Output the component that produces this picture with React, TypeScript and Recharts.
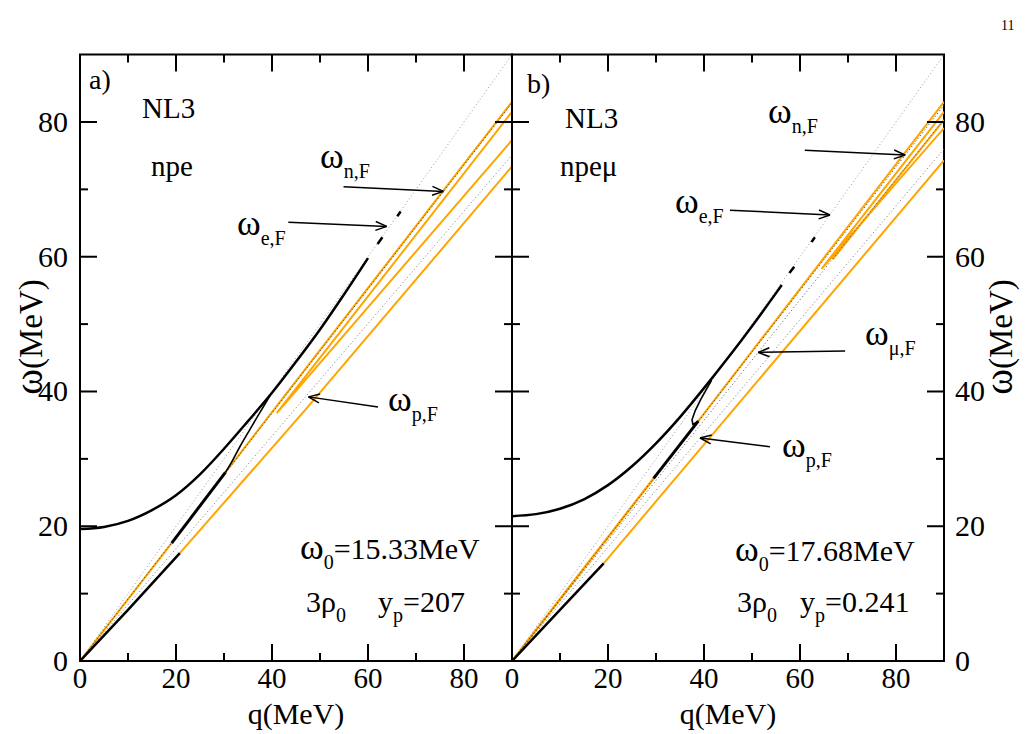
import { LineChart, Line, XAxis, YAxis, ReferenceLine, ReferenceArea } from "recharts";

// page and plot frame (px)
const W = 1026;
const H = 734;
const TOP = 54.6;
const BOTTOM = 661;
const A_LEFT = 80;
const A_RIGHT = 512;
const B_LEFT = 512;
const B_RIGHT = 944;
const Q_MAX = 90;
const W_MAX = 90;
const KX = (A_RIGHT - A_LEFT) / Q_MAX;
const KY = (BOTTOM - TOP) / W_MAX;
const X_AXIS_H = 40;
const Y_AXIS_W = 60;

const FONT = "'Liberation Serif', 'DejaVu Serif', serif";
const ORANGE = "#ffa500";

const qTicks = [0, 10, 20, 30, 40, 50, 60, 70, 80];
const wTicks = [0, 10, 20, 30, 40, 50, 60, 70, 80];

type Pt = [number, number | null];

// ---- a) NL3, npe : branches of ω(q) in MeV ----
const npeUpper: Pt[] = [[0, 19.6], [5, 19.9], [10, 20.8], [15, 22.4], [20, 24.6], [25, 27.7], [30, 31.5], [35, 35.6], [40, 39.8], [45, 44.4], [50, 49.2], [55, 54.4], [60, 59.8]];
const npeUpperTail: Pt[] = [[62.0, 61.9], [63.0, 62.9], [64.5, null], [66.1, 66.0], [66.8, 66.7]];
const npeCusp: Pt[] = [[30.3, 28.0], [31.5, 29.4], [33.3, 31.8], [35.5, 34.5], [37.5, 36.9], [39.6, 39.4]];
const npeMidOrangeLow: Pt[] = [[0, 0], [19.1, 17.5]];
const npeMidBlack: Pt[] = [[19.1, 17.5], [30.3, 28.0]];
const npeMidOrangeHigh: Pt[] = [[30.3, 28.0], [90, 83.0]];
const npeV: Pt[] = [[90, 81.5], [41, 36.8], [90, 77.3]];
const npeLowBlack: Pt[] = [[0, 0], [10, 7.6], [20.8, 16.0]];
const npeLowOrange: Pt[] = [[20.8, 16.0], [47.2, 37.5], [90, 73.4]];
const npeVe: Pt[] = [[0, 0], [90, 90]];
const npeVn: Pt[] = [[0, 0], [90, 82.8]];
const npeVp: Pt[] = [[0, 0], [90, 75.1]];

// ---- b) NL3, npeμ ----
const npemUpper: Pt[] = [[0, 21.5], [5, 21.8], [10, 22.6], [15, 24.0], [20, 26.1], [25, 28.9], [30, 32.3], [35, 36.2], [40, 40.5], [45, 45.0], [50, 49.7], [55, 54.6], [56.2, 55.8]];
const npemUpperTail: Pt[] = [[57.8, 57.6], [58.8, 58.5], [60.5, null], [62.4, 62.2], [63.1, 62.9]];
const npemCusp: Pt[] = [[38.8, 35.6], [37.7, 35.1], [37.5, 35.8], [38.2, 37.2], [39.3, 38.8], [40.5, 40.3], [41.6, 41.7]];
const npemMidOrangeLow: Pt[] = [[0, 0], [29.5, 27.1]];
const npemMidBlack: Pt[] = [[29.5, 27.1], [38.8, 35.6]];
const npemMidOrangeHigh: Pt[] = [[38.8, 35.6], [90, 83.0]];
const npemV1: Pt[] = [[90, 81.5], [64.5, 58.2], [90, 79.1]];
const npemV2: Pt[] = [[71, 64.1], [66.8, 59.6], [90, 80.3]];
const npemLowBlack: Pt[] = [[0, 0], [10, 7.6], [19.1, 14.5]];
const npemLowOrange: Pt[] = [[19.1, 14.5], [90, 74.3]];
const npemVe: Pt[] = [[0, 0], [90, 90]];
const npemVn: Pt[] = [[0, 0], [90, 82.5]];
const npemVmu: Pt[] = [[0, 0], [90, 80.4]];
const npemVp: Pt[] = [[0, 0], [90, 76.0]];

// arrows pointing at the Fermi lines: [tail, tip] in (q, ω)
const npeArrows = [
  [[54.9, 70.4], [75.7, 69.7]],
  [[43.4, 65.1], [63.9, 64.5]],
  [[62.1, 37.7], [47.6, 39.2]],
];
const npemArrows = [
  [[61.0, 75.8], [81.9, 75.1]],
  [[45.4, 66.9], [66.25, 66.2]],
  [[69.4, 46.0], [51.3, 45.8]],
  [[53.75, 31.8], [39.2, 33.1]],
];

const pts = (a: Pt[]) => a.map(([q, w]) => ({ q, w }));

type Series = { d: Pt[]; color: string; width: number; dash?: string; curve?: boolean };

const npeSeries: Series[] = [
  { d: npeMidOrangeLow, color: ORANGE, width: 2 },
  { d: npeMidOrangeHigh, color: ORANGE, width: 2 },
  { d: npeV, color: ORANGE, width: 2 },
  { d: npeLowOrange, color: ORANGE, width: 2 },
  { d: npeVe, color: "#999", width: 1, dash: "1 2.5" },
  { d: npeVn, color: "#333", width: 1, dash: "1 2.5" },
  { d: npeVp, color: "#777", width: 1, dash: "1 2.5" },
  { d: npeUpper, color: "#000", width: 2.5, curve: true },
  { d: npeUpperTail, color: "#000", width: 2.5 },
  { d: npeCusp, color: "#000", width: 1.6, curve: true },
  { d: npeMidBlack, color: "#000", width: 3 },
  { d: npeLowBlack, color: "#000", width: 2.5 },
];

const npemSeries: Series[] = [
  { d: npemMidOrangeLow, color: ORANGE, width: 2.5 },
  { d: npemMidOrangeHigh, color: ORANGE, width: 2 },
  { d: npemV1, color: ORANGE, width: 2 },
  { d: npemV2, color: ORANGE, width: 2 },
  { d: npemLowOrange, color: ORANGE, width: 2 },
  { d: npemVe, color: "#999", width: 1, dash: "1 2.5" },
  { d: npemVn, color: "#333", width: 1, dash: "1 2.5" },
  { d: npemVmu, color: "#555", width: 1, dash: "1 2.5" },
  { d: npemVp, color: "#777", width: 1, dash: "1 2.5" },
  { d: npemUpper, color: "#000", width: 2.5, curve: true },
  { d: npemUpperTail, color: "#000", width: 2.5 },
  { d: npemCusp, color: "#000", width: 1.6 },
  { d: npemMidBlack, color: "#000", width: 3 },
  { d: npemLowBlack, color: "#000", width: 2.5 },
];

// open arrowhead, built in pixel space and mapped back to data units
const arrowHead = (from: number[], to: number[]) => {
  const dx = (to[0] - from[0]) * KX;
  const dy = (to[1] - from[1]) * KY;
  const len = Math.hypot(dx, dy);
  const ux = dx / len;
  const uy = dy / len;
  const L = 12;
  return [-0.38, 0.38].map((t) => {
    const c = Math.cos(t);
    const s = Math.sin(t);
    const rx = ux * c - uy * s;
    const ry = ux * s + uy * c;
    return [to[0] - (L * rx) / KX, to[1] - (L * ry) / KY];
  });
};

const tickLen = (v: number) => (v % 20 === 0 ? 17 : 8);

// inward ticks on both bottom and top edges, label under the bottom one
const XTick = (props: any) => {
  const { x, payload } = props;
  const v = payload.value;
  const len = tickLen(v);
  return (
    <g>
      <line x1={x} x2={x} y1={BOTTOM} y2={BOTTOM - len} stroke="#000" strokeWidth={2} />
      <line x1={x} x2={x} y1={TOP} y2={TOP + len} stroke="#000" strokeWidth={2} />
      {v % 20 === 0 && (
        <text x={x} y={BOTTOM + 27} textAnchor="middle" fontSize={29} fontFamily={FONT} fill="#000">
          {v}
        </text>
      )}
    </g>
  );
};

const makeYTick = (left: number, right: number, labelRight: boolean) => (props: any) => {
  const { y, payload } = props;
  const v = payload.value;
  const len = tickLen(v);
  return (
    <g>
      <line x1={left} x2={left + len} y1={y} y2={y} stroke="#000" strokeWidth={2} />
      <line x1={right} x2={right - len} y1={y} y2={y} stroke="#000" strokeWidth={2} />
      {v % 20 === 0 && (
        <text
          x={labelRight ? right + 11 : left - 12}
          y={y + 10}
          textAnchor={labelRight ? "start" : "end"}
          fontSize={30}
          fontFamily={FONT}
          fill="#000"
        >
          {v}
        </text>
      )}
    </g>
  );
};

const Panel = ({ left, right, series, arrows, labelRight }: { left: number; right: number; series: Series[]; arrows: number[][][]; labelRight: boolean }) => (
  <div style={{ position: "absolute", left: 0, top: 0, width: W, height: H }}>
    <LineChart
      width={W}
      height={H}
      margin={{
        top: TOP,
        bottom: H - BOTTOM - X_AXIS_H,
        left: labelRight ? left : left - Y_AXIS_W,
        right: labelRight ? W - right - Y_AXIS_W : W - right,
      }}
    >
      <XAxis
        type="number"
        dataKey="q"
        domain={[0, Q_MAX]}
        ticks={qTicks}
        interval={0}
        height={X_AXIS_H}
        axisLine={false}
        tickLine={false}
        tick={<XTick />}
        allowDataOverflow
      />
      <YAxis
        type="number"
        dataKey="w"
        domain={[0, W_MAX]}
        ticks={wTicks}
        interval={0}
        width={Y_AXIS_W}
        orientation={labelRight ? "right" : "left"}
        axisLine={false}
        tickLine={false}
        tick={makeYTick(left, right, labelRight)}
        allowDataOverflow
      />
      {series.map((s, i) => (
        <Line
          key={i}
          data={pts(s.d)}
          dataKey="w"
          type={s.curve ? "monotone" : "linear"}
          stroke={s.color}
          strokeWidth={s.width}
          strokeDasharray={s.dash}
          dot={false}
          activeDot={false}
          isAnimationActive={false}
        />
      ))}
      {arrows.map(([from, to], i) => (
        <ReferenceLine
          key={"s" + i}
          segment={[{ x: from[0], y: from[1] }, { x: to[0], y: to[1] }]}
          stroke="#000"
          strokeWidth={1.5}
          ifOverflow="visible"
        />
      ))}
      {arrows.flatMap(([from, to], i) =>
        arrowHead(from, to).map((h, j) => (
          <ReferenceLine
            key={"h" + i + "-" + j}
            segment={[{ x: h[0], y: h[1] }, { x: to[0], y: to[1] }]}
            stroke="#000"
            strokeWidth={1.5}
            ifOverflow="visible"
          />
        ))
      )}
      <ReferenceArea x1={0} x2={Q_MAX} y1={0} y2={W_MAX} fill="none" fillOpacity={0} stroke="#000" strokeWidth={2} ifOverflow="visible" />
    </LineChart>
  </div>
);

// ω with a lowered subscript
const Omega = ({ x, y, sub }: { x: number; y: number; sub: string }) => (
  <text x={x} y={y} fontSize={30}>
    <tspan fontSize={36}>ω</tspan>
    <tspan dy={10} fontSize={20}>{sub}</tspan>
  </text>
);

const Labels = () => (
  <svg width={W} height={H} style={{ position: "absolute", left: 0, top: 0, pointerEvents: "none" }} fontFamily={FONT} fill="#000">
    <text x={1001} y={30} fontSize={14}>11</text>

    {/* panel a */}
    <text x={89} y={89} fontSize={28}>a)</text>
    <text x={142} y={118} fontSize={29}>NL3</text>
    <text x={151} y={176} fontSize={29}>npe</text>
    <Omega x={320} y={168} sub="n,F" />
    <Omega x={237} y={235} sub="e,F" />
    <Omega x={388} y={411} sub="p,F" />
    <text x={300} y={559} fontSize={30}>
      <tspan fontSize={36}>ω</tspan>
      <tspan dy={10} fontSize={20}>0</tspan>
      <tspan dy={-10}>=15.33MeV</tspan>
    </text>
    <text x={306} y={612} fontSize={30}>
      3ρ<tspan dy={10} fontSize={20}>0</tspan>
    </text>
    <text x={378} y={612} fontSize={30}>
      y<tspan dy={10} fontSize={20}>p</tspan>
      <tspan dy={-10}>=207</tspan>
    </text>

    {/* panel b */}
    <text x={527} y={93} fontSize={28}>b)</text>
    <text x={565} y={128} fontSize={29}>NL3</text>
    <text x={560} y={176} fontSize={29}>npeμ</text>
    <Omega x={768} y={123} sub="n,F" />
    <Omega x={675} y={213} sub="e,F" />
    <Omega x={865} y={345} sub="μ,F" />
    <Omega x={782} y={457} sub="p,F" />
    <text x={735} y={561} fontSize={30}>
      <tspan fontSize={36}>ω</tspan>
      <tspan dy={10} fontSize={20}>0</tspan>
      <tspan dy={-10}>=17.68MeV</tspan>
    </text>
    <text x={737} y={612} fontSize={30}>
      3ρ<tspan dy={10} fontSize={20}>0</tspan>
    </text>
    <text x={800} y={612} fontSize={30}>
      y<tspan dy={10} fontSize={20}>p</tspan>
      <tspan dy={-10}>=0.241</tspan>
    </text>

    {/* axis titles */}
    <text x={(A_LEFT + A_RIGHT) / 2} y={724} fontSize={30} textAnchor="middle">q(MeV)</text>
    <text x={(B_LEFT + B_RIGHT) / 2} y={724} fontSize={30} textAnchor="middle">q(MeV)</text>
    <text transform="translate(42,337) rotate(-90)" fontSize={33} textAnchor="middle">
      <tspan fontSize={39}>ω</tspan>(MeV)
    </text>
    <text transform="translate(1012,337) rotate(-90)" fontSize={33} textAnchor="middle">
      <tspan fontSize={39}>ω</tspan>(MeV)
    </text>
  </svg>
);

export default function App() {
  return (
    <div style={{ position: "absolute", left: 0, top: 0, width: W, height: H, background: "#fff" }}>
      <Panel left={A_LEFT} right={A_RIGHT} series={npeSeries} arrows={npeArrows} labelRight={false} />
      <Panel left={B_LEFT} right={B_RIGHT} series={npemSeries} arrows={npemArrows} labelRight />
      <Labels />
    </div>
  );
}
